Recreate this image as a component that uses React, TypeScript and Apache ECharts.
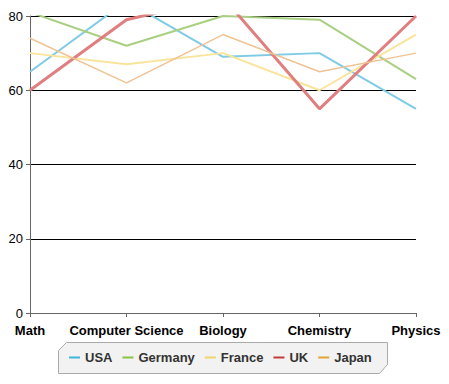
import React, { useEffect, useRef } from "react";
import * as echarts from "echarts";

const categories = ["Math", "Computer Science", "Biology", "Chemistry", "Physics"];
const seriesNames = ["USA", "Germany", "France", "UK", "Japan"];
const usa = [65, 84, 69, 70, 55];
const germany = [81, 72, 80, 79, 63];
const france = [70, 67, 70, 60, 75];
const uk = [60, 79, 85, 55, 80];
const japan = [74, 62, 75, 65, 70];
const yTicks = [0, 20, 40, 60, 80];

const lineColors = ["#7fcbe6", "#a9cf83", "#f9e49c", "#e07e80", "#efc393"];
const legendColors = ["#3fb6dc", "#8dc043", "#f0d56a", "#c43a3a", "#e0a53a"];
const lineWidths = [2, 2, 2, 3, 1.5];
const FONT = "Arial, 'Liberation Sans', sans-serif";

export default function App() {
  const ref = useRef<HTMLDivElement>(null);
  useEffect(() => {
    if (!ref.current) return;
    const chart = echarts.init(ref.current, undefined, { renderer: "svg" });
    const values = [usa, germany, france, uk, japan];
    chart.setOption({
      animation: false,
      backgroundColor: "#ffffff",
      grid: { left: 30, right: 33, top: 16, bottom: 71 },
      xAxis: {
        type: "category",
        data: categories,
        boundaryGap: false,
        axisLine: { lineStyle: { color: "#666666", width: 1 } },
        axisTick: { show: true, length: 4, lineStyle: { color: "#666666" } },
        axisLabel: {
          interval: 0,
          color: "#000000",
          fontWeight: "bold",
          fontSize: 13,
          fontFamily: FONT,
          margin: 11,
        },
        splitLine: { show: false },
      },
      yAxis: {
        type: "value",
        min: yTicks[0],
        max: yTicks[yTicks.length - 1],
        interval: 20,
        axisLine: { show: true, lineStyle: { color: "#666666", width: 1 } },
        axisTick: { show: true, length: 4, lineStyle: { color: "#666666" } },
        axisLabel: {
          color: "#000000",
          fontSize: 13,
          fontFamily: FONT,
          margin: 7,
        },
        splitLine: { show: true, lineStyle: { color: "#000000", width: 1 } },
      },
      legend: {
        left: 64,
        top: 346,
        itemGap: 10,
        itemWidth: 11,
        itemHeight: 2,
        icon: "rect",
        textStyle: {
          color: "#333333",
          fontWeight: "bold",
          fontSize: 13,
          fontFamily: FONT,
        },
        data: seriesNames.map((n, i) => ({ name: n, itemStyle: { color: legendColors[i] } })),
      },
      graphic: [
        {
          type: "polygon",
          z: -1,
          silent: true,
          shape: {
            points: [
              [66.5, 342.5],
              [387.5, 342.5],
              [387.5, 364.5],
              [379.5, 373.5],
              [58.5, 373.5],
              [58.5, 350.5],
            ],
          },
          style: { fill: "#f2f2f2", stroke: "#aaaaaa", lineWidth: 1 },
        },
      ],
      series: seriesNames.map((n, i) => ({
        name: n,
        type: "line",
        data: values[i],
        showSymbol: false,
        symbol: "none",
        clip: true,
        color: lineColors[i],
        lineStyle: { color: lineColors[i], width: lineWidths[i] },
      })),
    });
    return () => chart.dispose();
  }, []);
  return (
    <div
      ref={ref}
      style={{ position: "absolute", left: 0, top: 0, width: 449, height: 384 }}
    />
  );
}
